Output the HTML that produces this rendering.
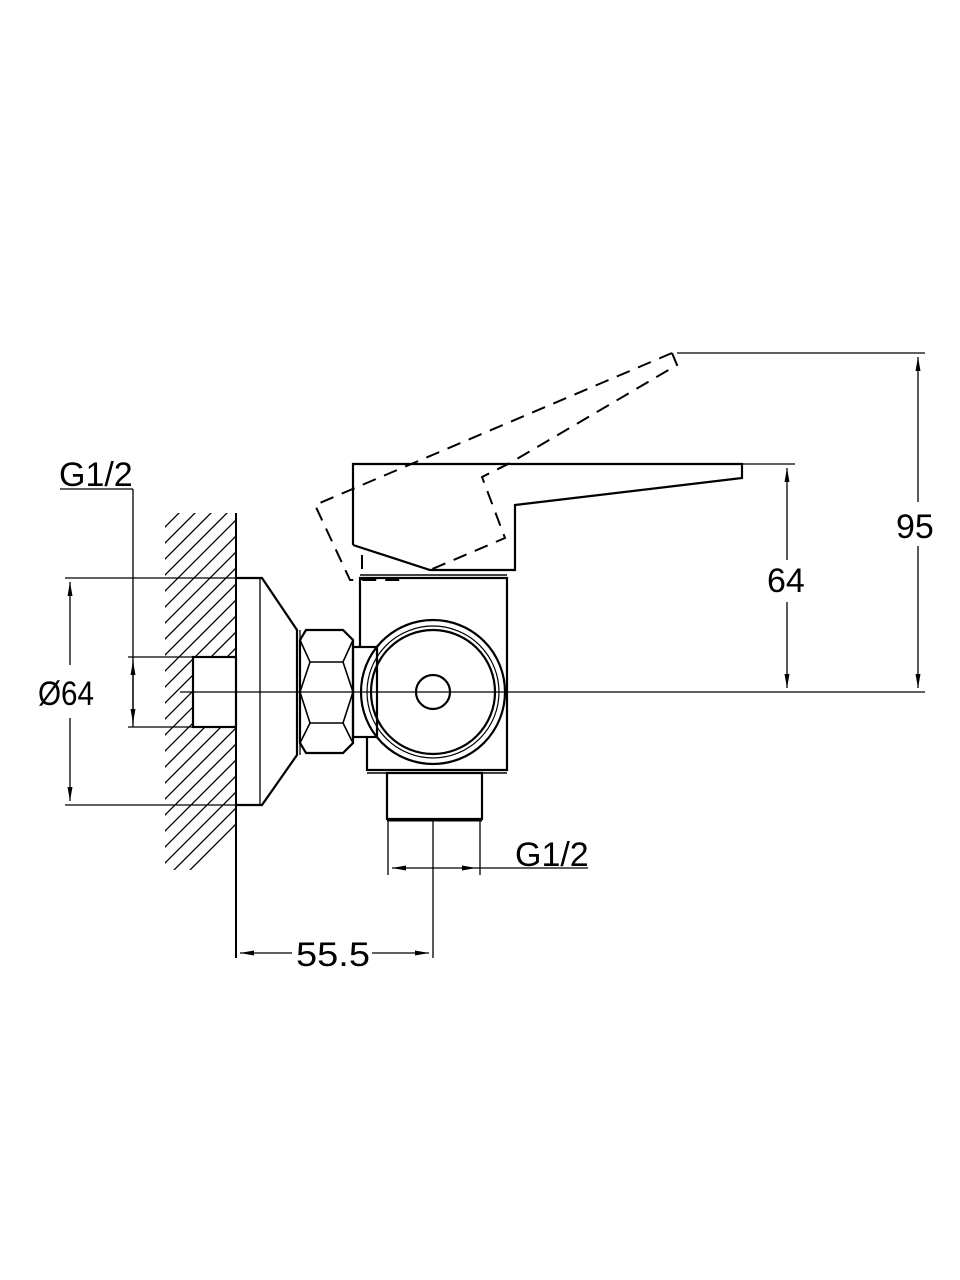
<!DOCTYPE html>
<html><head><meta charset="utf-8"><style>
html,body{margin:0;padding:0;background:#fff;}
svg{display:block;}
text{font-family:"Liberation Sans",Arial,sans-serif;fill:#000;}
</style></head><body>
<svg width="960" height="1280" viewBox="0 0 960 1280" xmlns="http://www.w3.org/2000/svg">
<defs>
<clipPath id="hc"><path d="M165 513 H236 V870 H165 Z M193 657 V727 H236 V657 Z" clip-rule="evenodd"/></clipPath>
<marker id="ar" viewBox="0 0 14 6" refX="14" refY="3" markerWidth="14" markerHeight="6" orient="auto-start-reverse" markerUnits="userSpaceOnUse"><path d="M0 0.5 L14 3 L0 5.5 Z" fill="#000"/></marker>
</defs>
<g clip-path="url(#hc)" stroke="#000" stroke-width="1.3">
<path d="M60 600 l200 -200 M60 616 l200 -200 M60 632 l200 -200 M60 648 l200 -200 M60 664 l200 -200 M60 680 l200 -200 M60 696 l200 -200 M60 712 l200 -200 M60 728 l200 -200 M60 744 l200 -200 M60 760 l200 -200 M60 776 l200 -200 M60 792 l200 -200 M60 808 l200 -200 M60 824 l200 -200 M60 840 l200 -200 M60 856 l200 -200 M60 872 l200 -200 M60 888 l200 -200 M60 904 l200 -200 M60 920 l200 -200 M60 936 l200 -200 M60 952 l200 -200 M60 968 l200 -200 M60 984 l200 -200 M60 1000 l200 -200"/>
</g>
<g fill="none" stroke="#000" stroke-width="2.2" stroke-linejoin="miter">
<line x1="236" y1="513" x2="236" y2="958" stroke-width="2"/>
<rect x="193" y="657" width="43" height="70"/>
<path d="M236 578 H262 L297 630 V755 L262 805 H236"/>
<line x1="260" y1="578" x2="260" y2="805" stroke-width="1.3"/>
<line x1="300" y1="630" x2="300" y2="755" stroke-width="1.3"/>
<path d="M306 630 H343 L353 640 V743 L343 753 H306 L300 743 V640 Z"/>
<path d="M300 640 L310 662 H343 L353 640 M300 743 L310 723 H343 L353 743 M310 662 L300 692 L310 723 M343 662 L353 692 L343 723" stroke-width="1.6"/>
<rect x="353" y="647" width="24" height="90"/>
<path d="M360 647 V578 H507 V770 H367 V737"/>
<line x1="367" y1="773" x2="507" y2="773" stroke-width="1.5"/>
<circle cx="433" cy="692" r="72"/>
<circle cx="433" cy="692" r="66" stroke-width="1.2"/>
<circle cx="433" cy="692" r="62"/>
<circle cx="433" cy="692" r="17"/>
<rect x="387" y="773" width="95" height="46"/>
<line x1="387" y1="820" x2="482" y2="820" stroke-width="3"/>
<path d="M353 545 V464 H742 V478 L515 505 V570 L430 570 L353 545"/>
<line x1="360" y1="575" x2="507" y2="575" stroke-width="1.5"/>
</g>
<g fill="none" stroke="#000" stroke-width="2" stroke-dasharray="14 9">
<path d="M672 353 L315 505 L350 580 H400"/>
<path d="M672 353 L677 365 L510 463 L482 477 L505 538 L430 570"/>
<line x1="362" y1="555" x2="362" y2="580"/>
</g>
<g fill="none" stroke="#000" stroke-width="1.3">
<line x1="180" y1="692" x2="925" y2="692"/>
<line x1="742" y1="464" x2="795" y2="464"/>
<line x1="677" y1="353" x2="925" y2="353"/>
<line x1="787" y1="468" x2="787" y2="560" marker-start="url(#ar)"/>
<line x1="787" y1="602" x2="787" y2="688" marker-end="url(#ar)"/>
<line x1="918" y1="357" x2="918" y2="502" marker-start="url(#ar)"/>
<line x1="918" y1="546" x2="918" y2="688" marker-end="url(#ar)"/>
<line x1="60" y1="489" x2="133" y2="489"/>
<line x1="133" y1="489" x2="133" y2="727"/>
<line x1="65" y1="578" x2="236" y2="578"/>
<line x1="65" y1="805" x2="236" y2="805"/>
<line x1="70" y1="582" x2="70" y2="665" marker-start="url(#ar)"/>
<line x1="70" y1="718" x2="70" y2="801" marker-end="url(#ar)"/>
<line x1="128" y1="657" x2="193" y2="657"/>
<line x1="128" y1="727" x2="193" y2="727"/>
<line x1="133" y1="661" x2="133" y2="692" marker-start="url(#ar)"/>
<line x1="133" y1="692" x2="133" y2="723" marker-end="url(#ar)"/>
<line x1="388" y1="820" x2="388" y2="875"/>
<line x1="480" y1="820" x2="480" y2="875"/>
<line x1="433" y1="820" x2="433" y2="958"/>
<line x1="392" y1="868" x2="433" y2="868" marker-start="url(#ar)"/>
<line x1="433" y1="868" x2="476" y2="868" marker-end="url(#ar)"/>
<line x1="476" y1="868" x2="588" y2="868"/>
<line x1="240" y1="953" x2="292" y2="953" marker-start="url(#ar)"/>
<line x1="372" y1="953" x2="429" y2="953" marker-end="url(#ar)"/>
</g>
<g font-size="34">
<text x="59" y="486">G1/2</text>
<text x="515" y="866">G1/2</text>
<text x="38" y="705" textLength="56" lengthAdjust="spacingAndGlyphs">Ø64</text>
<text x="296" y="966" textLength="74" lengthAdjust="spacingAndGlyphs">55.5</text>
<text x="767" y="592">64</text>
<text x="896" y="538">95</text>
</g>
</svg>
</body></html>
